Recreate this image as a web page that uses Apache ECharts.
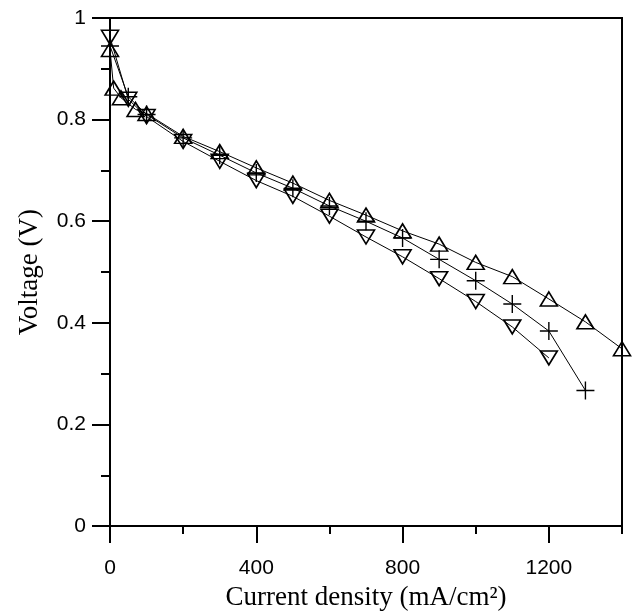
<!DOCTYPE html>
<html>
<head>
<meta charset="utf-8">
<script src="https://cdn.jsdelivr.net/npm/echarts@6/dist/echarts.min.js"></script>
<style>
html,body{margin:0;padding:0;background:#fff;}
#chart{width:639px;height:616px;}
</style>
</head>
<body>
<div id="chart"></div>
<script>
// Series: up-triangle
const currentUp = [0, 10, 30, 70, 100, 200, 300, 400, 500, 600, 700, 800, 900, 1000, 1100, 1200, 1300, 1400];
const voltageUp = [0.938, 0.862, 0.843, 0.820, 0.812, 0.767, 0.737, 0.705, 0.675, 0.641, 0.612, 0.581, 0.555, 0.519, 0.491, 0.447, 0.402, 0.349];
// Series: down-triangle
const currentDown = [0, 50, 100, 200, 300, 400, 500, 600, 700, 800, 900, 1000, 1100, 1200];
const voltageDown = [0.962, 0.840, 0.806, 0.757, 0.718, 0.680, 0.649, 0.610, 0.569, 0.530, 0.487, 0.442, 0.392, 0.331];
// Series: plus
const currentPlus = [0, 50, 100, 200, 300, 400, 500, 600, 700, 800, 900, 1000, 1100, 1200, 1300];
const voltagePlus = [0.945, 0.845, 0.810, 0.764, 0.730, 0.695, 0.665, 0.630, 0.600, 0.567, 0.525, 0.483, 0.437, 0.384, 0.267];

const xTickLabels = [0, 400, 800, 1200];
const yTickLabels = [0, 0.2, 0.4, 0.6, 0.8, 1];

const pairs = (xs, ys) => xs.map((x, i) => [x, ys[i]]);

const chart = echarts.init(document.getElementById('chart'), null, {renderer: 'canvas'});
const labelFont = 'Liberation Sans, Arial, sans-serif';
const titleFont = 'Liberation Serif, Times New Roman, serif';

const baseSeries = {
  type: 'line',
  xAxisIndex: 0,
  yAxisIndex: 0,
  lineStyle: {color: '#000', width: 1},
  itemStyle: {color: 'rgba(0,0,0,0)', borderColor: '#000', borderWidth: 1.6},
  showAllSymbol: true,
  animation: false,
  silent: true
};

chart.setOption({
  animation: false,
  backgroundColor: '#fff',
  grid: {left: 110, right: 17, top: 18, bottom: 85, show: true, borderColor: '#000', borderWidth: 2, backgroundColor: 'transparent'},
  xAxis: [
    {
      type: 'value', min: 0, max: 1400, interval: 400, position: 'bottom',
      name: 'Current density (mA/cm²)', nameLocation: 'middle', nameGap: 52,
      nameTextStyle: {fontFamily: titleFont, fontSize: 27, color: '#000'},
      axisLine: {show: true, onZero: false, lineStyle: {color: '#000', width: 2}},
      axisTick: {show: true, length: 17, lineStyle: {color: '#000', width: 2}},
      axisLabel: {
        show: true, margin: 32, fontFamily: labelFont, fontSize: 21, color: '#000',
        showMaxLabel: false,
        formatter: v => xTickLabels.includes(v) ? String(v) : ''
      },
      splitLine: {show: false}
    },
    {
      type: 'value', min: 0, max: 1400, interval: 200, position: 'bottom', offset: 0,
      axisLine: {show: false, onZero: false},
      axisTick: {show: true, length: 8, lineStyle: {color: '#000', width: 2}},
      axisLabel: {show: false},
      splitLine: {show: false}
    }
  ],
  yAxis: [
    {
      type: 'value', min: 0, max: 1, interval: 0.2, position: 'left',
      name: 'Voltage (V)', nameLocation: 'middle', nameGap: 67,
      nameTextStyle: {fontFamily: titleFont, fontSize: 27, color: '#000'},
      axisLine: {show: true, onZero: false, lineStyle: {color: '#000', width: 2}},
      axisTick: {show: true, length: 18, lineStyle: {color: '#000', width: 2}},
      axisLabel: {
        show: true, margin: 24, fontFamily: labelFont, fontSize: 21, color: '#000',
        formatter: v => {
          const r = Math.round(v * 10) / 10;
          return yTickLabels.includes(r) ? String(r) : '';
        }
      },
      splitLine: {show: false}
    },
    {
      type: 'value', min: 0, max: 1, interval: 0.1, position: 'left', offset: 0,
      axisLine: {show: false, onZero: false},
      axisTick: {show: true, length: 9, lineStyle: {color: '#000', width: 2}},
      axisLabel: {show: false},
      splitLine: {show: false}
    }
  ],
  series: [
    Object.assign({}, baseSeries, {
      name: 'up', data: pairs(currentUp, voltageUp),
      symbol: 'triangle', symbolSize: [17, 14]
    }),
    Object.assign({}, baseSeries, {
      name: 'down', data: pairs(currentDown, voltageDown),
      symbol: 'triangle', symbolSize: [17, 14], symbolRotate: 180
    }),
    Object.assign({}, baseSeries, {
      name: 'plus', data: pairs(currentPlus, voltagePlus),
      symbol: 'path://M10,0L10,20M0,10L20,10', symbolSize: [18, 18],
      itemStyle: {color: 'rgba(0,0,0,0)', borderColor: '#000', borderWidth: 1.4}
    })
  ]
});
</script>
</body>
</html>
